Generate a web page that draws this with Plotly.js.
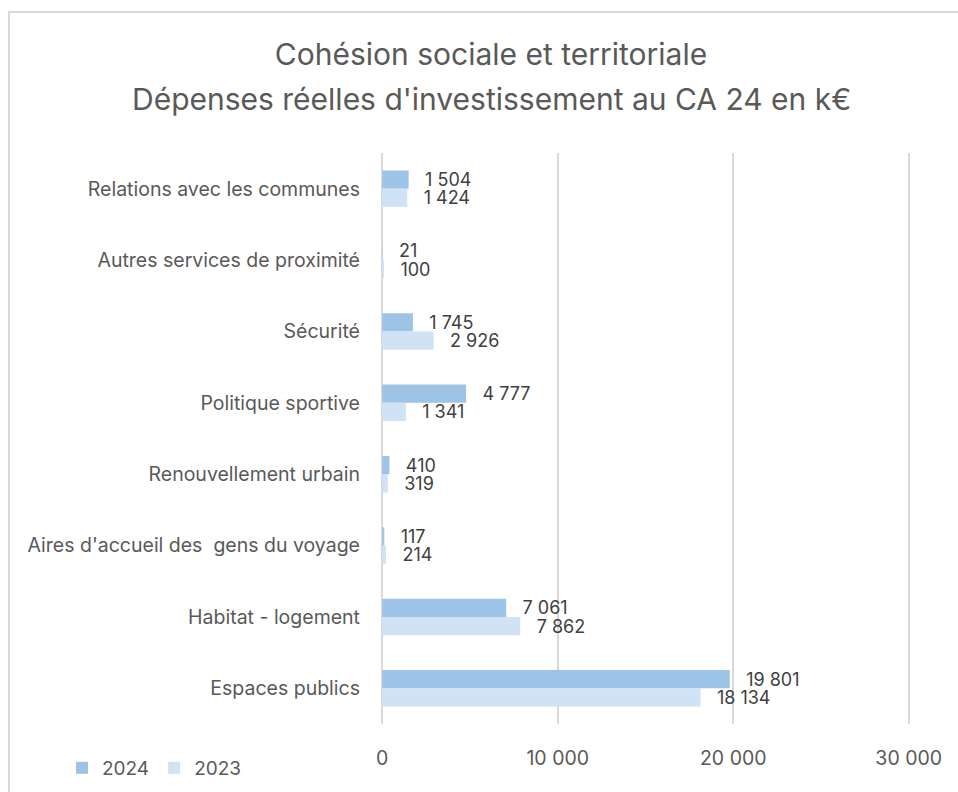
<!DOCTYPE html>
<html>
<head>
<meta charset="utf-8">
<script src="https://cdn.plot.ly/plotly-3.0.1.min.js"></script>
<style>
html,body{margin:0;padding:0;background:#fff;overflow:hidden;}
#frame{position:absolute;left:8px;top:11px;width:1200px;height:1200px;border:2px solid #d9d9d9;box-sizing:border-box;}
#chart{position:absolute;left:0;top:0;width:958px;height:792px;}
</style>
</head>
<body>
<div id="frame"></div>
<div id="chart"></div>
<script>
const categories = [
  "Relations avec les communes",
  "Autres services de proximité",
  "Sécurité",
  "Politique sportive",
  "Renouvellement urbain",
  "Aires d'accueil des  gens du voyage",
  "Habitat - logement",
  "Espaces publics"
];
const values2024 = [1504, 21, 1745, 4777, 410, 117, 7061, 19801];
const values2023 = [1424, 100, 2926, 1341, 319, 214, 7862, 18134];
const seriesNames = ["2024", "2023"];
const xTicks = [0, 10000, 20000, 30000];
const titleLine1 = "Cohésion sociale et territoriale";
const titleLine2 = "Dépenses réelles d'investissement au CA 24 en k€";

function fmt(v) {
  const s = String(Math.round(v));
  return s.replace(/\B(?=(\d{3})+(?!\d))/g, "\u00A0");
}
const pad = "\u00A0\u00A0\u2009";
const FONT = "Inter, 'Noto Sans', Arial, sans-serif";

const traces = [
  {
    type: "bar", orientation: "h", name: seriesNames[0],
    y: categories, x: values2024,
    marker: {color: "#9DC3E6"},
    text: values2024.map(v => pad + fmt(v)),
    textposition: "outside", constraintext: "none", cliponaxis: false,
    textfont: {size: 18, color: "#404040", family: FONT},
    hoverinfo: "x+name"
  },
  {
    type: "bar", orientation: "h", name: seriesNames[1],
    y: categories, x: values2023,
    marker: {color: "#D0E2F5"},
    text: values2023.map(v => pad + fmt(v)),
    textposition: "outside", constraintext: "none", cliponaxis: false,
    textfont: {size: 18, color: "#404040", family: FONT},
    hoverinfo: "x+name"
  }
];

const layout = {
  width: 958, height: 792,
  paper_bgcolor: "rgba(0,0,0,0)", plot_bgcolor: "rgba(0,0,0,0)",
  font: {family: FONT, color: "#595959", size: 19},
  separators: ", ",
  margin: {l: 377, r: 44, t: 153, b: 68, pad: 0, autoexpand: false},
  title: {
    text: titleLine1,
    font: {size: 30, color: "#595959", family: FONT},
    x: 0.5125, xref: "container", xanchor: "center",
    y: 1 - 54 / 792, yref: "container", yanchor: "middle"
  },
  annotations: [{
    text: titleLine2, showarrow: false,
    xref: "paper", yref: "paper", x: (491 - 377) / 537, y: (724 - 99) / 571,
    xanchor: "center", yanchor: "middle",
    font: {size: 30, color: "#595959", family: FONT}
  }],
  barmode: "group", bargap: 0.49, bargroupgap: 0,
  xaxis: {
    range: [-300, 30300], tickvals: xTicks, tickformat: ",d",
    showgrid: true, gridcolor: "#d9d9d9", gridwidth: 2,
    zeroline: false, showline: false, ticks: "", automargin: false,
    tickfont: {size: 19.5, color: "#595959"}, ticklabelstandoff: 20
  },
  yaxis: {
    autorange: "reversed", showgrid: false, zeroline: false, showline: false,
    ticks: "", ticklabelstandoff: 16, automargin: false,
    tickfont: {size: 19.5, color: "#595959"}
  },
  showlegend: true,
  legend: {
    orientation: "h", x: (62 - 377) / 537, xanchor: "left", y: -0.077, yanchor: "middle",
    font: {size: 19, color: "#595959"}, itemwidth: 30, traceorder: "normal"
  }
};

Plotly.newPlot("chart", traces, layout, {displayModeBar: false, staticPlot: true});
</script>
</body>
</html>
